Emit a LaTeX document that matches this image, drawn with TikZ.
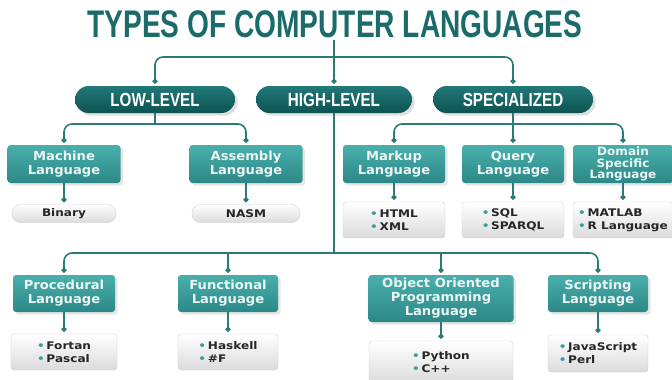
\documentclass[tikz,border=0pt]{standalone}
\usepackage{fontspec}
\setmainfont{DejaVu Sans}
\newfontfamily\headfont[FakeStretch=0.73]{Liberation Sans}
\newfontfamily\pillfont[FakeStretch=0.8]{Liberation Sans}
\newfontfamily\boxfont[FakeStretch=1.05]{DejaVu Sans}
\newfontfamily\listfont[FakeStretch=1.15]{DejaVu Sans}
\usetikzlibrary{arrows.meta,shadows}
\definecolor{titleteal}{HTML}{1A6B6A}
\definecolor{pilltop}{HTML}{217978}
\definecolor{pillbot}{HTML}{0C5352}
\definecolor{boxtop}{HTML}{4AAFAC}
\definecolor{boxbot}{HTML}{2C8886}
\definecolor{linkteal}{HTML}{2B7A78}
\definecolor{bullet}{HTML}{3A9E9B}
\newcommand\blt{{\color{bullet}\textbullet}\,}
\begin{document}
\begin{tikzpicture}[x=1pt, y=-1pt,
    level/.style={rectangle, rounded corners=13.5pt, minimum height=27pt, top color=pilltop, bottom color=pillbot,
      text=white, font=\pillfont\bfseries\fontsize{19}{19}\selectfont, drop shadow={opacity=0.25}},
    kind/.style={rectangle, rounded corners=3pt, minimum height=38pt, top color=boxtop, bottom color=boxbot,
      text=white!92!teal, align=center, inner sep=1pt, font=\boxfont\bfseries\fontsize{12.5}{14}\selectfont,
      drop shadow={opacity=0.2}},
    items/.style={rectangle, rounded corners=3pt, draw=black!18, top color=white, bottom color=black!14,
      text=black!85, align=left, font=\listfont\bfseries\fontsize{10.5}{13}\selectfont},
    tag/.style={items, rounded corners=8.5pt, minimum height=18pt, align=center},
    conn/.style={draw=linkteal, line width=1.6pt, rounded corners=8pt, -{Circle[length=5pt]}, shorten >=2pt}]
  \useasboundingbox (0,0) rectangle (672,380);

  \node[text=titleteal, font=\headfont\bfseries\fontsize{38.5}{40}\selectfont, inner sep=2pt] (title) at (335,24) {TYPES OF COMPUTER LANGUAGES};

  \node[level, minimum width=160pt] (low) at (155,99.5) {LOW-LEVEL};
  \node[level, minimum width=156pt] (high) at (334,99.5) {HIGH-LEVEL};
  \node[level, minimum width=160pt] (spec) at (513,99.5) {SPECIALIZED};

  \coordinate (hub) at (334,57);
  \draw[conn] (title.south -| hub) -- (high.north);
  \draw[conn] (hub) -| (low.north);
  \draw[conn] (hub) -| (spec.north);

  \node[kind, minimum width=113pt] (mach) at (64,164) {Machine\\Language};
  \node[kind, minimum width=113pt] (asm) at (246,164) {Assembly\\Language};
  \node[tag, minimum width=104pt] (bin) at (64,213.5) {Binary};
  \node[tag, minimum width=108pt] (nasm) at (246,213.5) {NASM};

  \coordinate (lowhub) at (155,124);
  \draw[draw=linkteal, line width=1.6pt] (low.south) -- (lowhub);
  \draw[conn] (lowhub) -| (mach.north);
  \draw[conn] (lowhub) -| (asm.north);
  \draw[conn] (mach.south) -- (bin.north);
  \draw[conn] (asm.south) -- (nasm.north);

  \node[kind, minimum width=102pt] (mark) at (394,164) {Markup\\Language};
  \node[kind, minimum width=102pt] (query) at (513,164) {Query\\Language};
  \node[kind, minimum width=100pt, font=\boxfont\bfseries\fontsize{11.5}{11.5}\selectfont] (dsl) at (623,164) {Domain\\Specific\\Language};
  \node[items, minimum width=102pt, minimum height=36pt] (markls) at (394,220) {\blt HTML\\\blt XML};
  \node[items, minimum width=102pt, minimum height=36pt] (queryls) at (513,220) {\blt SQL\\\blt SPARQL};
  \node[items, minimum width=100pt, minimum height=36pt] (dslls) at (623,220) {\blt MATLAB\\\blt R Language};

  \coordinate (spechub) at (513,124);
  \draw[draw=linkteal, line width=1.6pt] (spec.south) -- (spechub);
  \draw[conn] (spechub) -| (mark.north);
  \draw[conn] (spechub) -- (query.north);
  \draw[conn] (spechub) -| (dsl.north);
  \draw[conn] (mark.south) -- (markls.north);
  \draw[conn] (query.south) -- (queryls.north);
  \draw[conn] (dsl.south) -- (dslls.north);

  \node[kind, minimum width=102pt, minimum height=37pt] (proc) at (64,293.5) {Procedural\\Language};
  \node[kind, minimum width=100pt, minimum height=37pt] (func) at (228,293.5) {Functional\\Language};
  \node[kind, minimum width=145pt, minimum height=47pt] (oop) at (441,298.5) {Object Oriented\\Programming\\Language};
  \node[kind, minimum width=100pt, minimum height=37pt] (scr) at (598,293.5) {Scripting\\Language};
  \node[items, minimum width=106pt, minimum height=36pt] (procls) at (64,352) {\blt Fortan\\\blt Pascal};
  \node[items, minimum width=100pt, minimum height=36pt] (funcls) at (228,352) {\blt Haskell\\\blt \#F};
  \node[items, minimum width=144pt, minimum height=42pt] (oopls) at (441,362) {\blt Python\\\blt C++};
  \node[items, minimum width=100pt, minimum height=37pt] (scrls) at (598,353.5) {\blt JavaScript\\\blt Perl};

  \coordinate (highhub) at (334,253);
  \draw[draw=linkteal, line width=1.6pt] (high.south) -- (highhub);
  \draw[conn] (highhub) -| (proc.north);
  \draw[conn] (highhub) -| (scr.north);
  \draw[conn] (func.north |- highhub) -- (func.north);
  \draw[conn] (oop.north |- highhub) -- (oop.north);
  \draw[conn] (proc.south) -- (procls.north);
  \draw[conn] (func.south) -- (funcls.north);
  \draw[conn] (oop.south) -- (oopls.north);
  \draw[conn] (scr.south) -- (scrls.north);
\end{tikzpicture}
\end{document}
